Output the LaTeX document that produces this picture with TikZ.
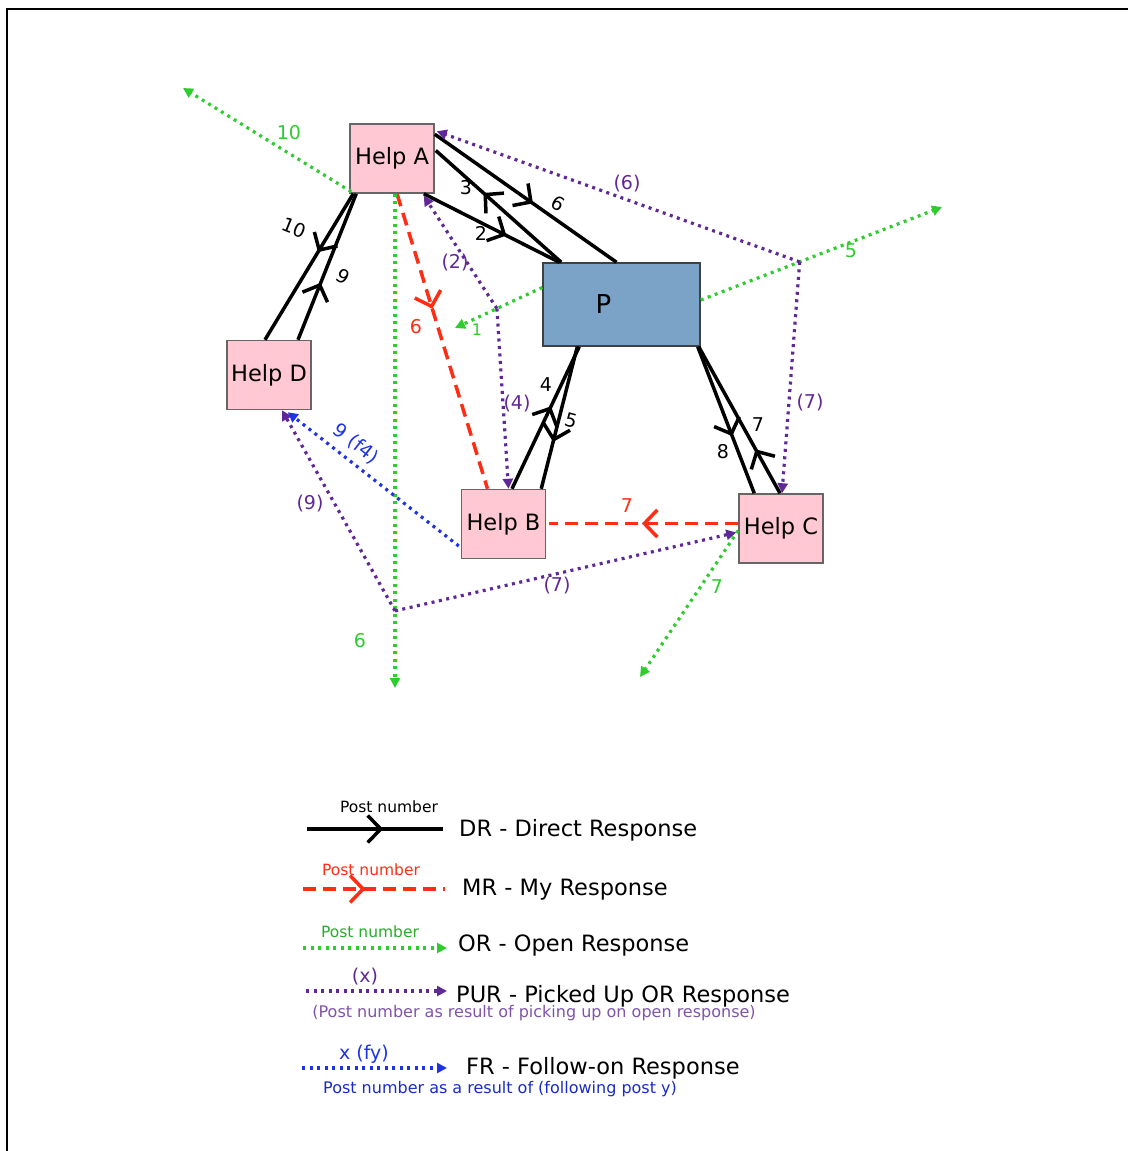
\documentclass[tikz,border=0pt]{standalone}
\usepackage{fontspec}
\setmainfont{DejaVu Sans}
\usetikzlibrary{arrows.meta,calc,decorations.markings}
\definecolor{helpfill}{RGB}{255,200,210}
\definecolor{postfill}{RGB}{122,163,199}
\definecolor{orgreen}{RGB}{45,205,45}
\definecolor{purpur}{RGB}{95,40,150}
\definecolor{frblue}{RGB}{30,50,230}
\definecolor{mrred}{RGB}{255,45,20}
\newcommand{\fs}[1]{\fontsize{#1}{#1}\selectfont}

\begin{document}
\begin{tikzpicture}[x=1pt,y=-1pt,
  help/.style={draw=black!60, line width=1.5pt, fill=helpfill, minimum width=84pt, minimum height=69pt, inner sep=0pt, font=\fs{22.5}},
  post/.style={draw=black!75, line width=1.5pt, fill=postfill, minimum width=157pt, minimum height=83pt, inner sep=0pt, font=\fs{26}},
  mid/.style={decoration={markings, mark=at position #1 with {\pgfsetdash{}{0pt}\arrow{Straight Barb[length=13pt,width=27pt]}}}, postaction={decorate}},
  dr/.style={black, line width=3.5pt, mid=#1},
  mr/.style={mrred, line width=3.5pt, dash pattern=on 13pt off 7pt, mid=#1},
  dots/.style={line width=3.2pt, dash pattern=on 3pt off 4.5pt, -{Triangle[length=10pt,width=10pt]}},
  or/.style={dots, orgreen},
  pur/.style={dots, purpur},
  fr/.style={dots, frblue},
  lbl/.style={font=\fs{19}, inner sep=0pt},
  key/.style={font=\fs{22.5}, anchor=west, inner sep=0pt},
  small/.style={font=\fs{15.5}, inner sep=0pt},
  note/.style={font=\fs{16}, inner sep=0pt},
]
\useasboundingbox (0,0) rectangle (1128,1151);
\draw[line width=2pt] (7,1151) -- (7,9) -- (1128,9);

% boxes
\node[help] (hA) at (392,158.5) {Help A};
\node[post] (P)  at (621.5,304.5) {P\rule{36pt}{0pt}};
\node[help] (hD) at (269,375) {Help D};
\node[help] (hB) at (503.5,524) {Help B};
\node[help] (hC) at (781,528.5) {Help C};

% open response ends and pick-up points
\coordinate (o10) at (183,88);
\coordinate (o6)  at (395,688);
\coordinate (o1)  at (455,328);
\coordinate (o5)  at (942,207);
\coordinate (o7)  at (640,677);
\coordinate (pw) at ($(P.west)+(0,-17)$);
\coordinate (pe) at ($(P.east)+(0,-4.5)$);
\coordinate (ad) at ($(hA.south)+(3,0)$);
\coordinate (jR) at ($(pe)!0.41!(o5)$);
\coordinate (jL) at ($(pw)!0.52!(o1)$);
\coordinate (jB) at ($(ad)!0.844!(o6)$);

% direct responses
\draw[dr=0.54] ($(hA.north east)+(0,11)$) -- ($(P.north)+(-5,0)$);
\draw[dr=0.62] ($(P.north west)+(19,0)$) -- ($(hA.east)+(1,-8)$);
\draw[dr=0.61] ($(hA.south east)+(-11,0)$) -- ($(P.north west)+(17,0)$);
\draw[dr=0.40] ($(hA.south west)+(4,0)$) -- ($(hD.north)+(-4,0)$);
\draw[dr=0.39] ($(hD.north)+(29,0)$) -- ($(hA.south west)+(7,0)$);
\draw[dr=0.58] ($(hB.north)+(8.5,0)$) -- ($(P.south west)+(37,0)$);
\draw[dr=0.67] ($(P.south west)+(35,0)$) -- ($(hB.north east)+(-5,0)$);
\draw[dr=0.61] ($(P.south east)+(-3,0)$) -- ($(hC.north west)+(16,0)$);
\draw[dr=0.30] ($(hC.north)+(-1,0)$) -- ($(P.south east)+(-2,0)$);

% my responses
\draw[mr=0.39] ($(hA.south)+(5,0)$) -- ($(hB.north)+(-16,0)$);
\draw[mr=0.51] ($(hC.west)+(0,-5)$) -- ($(hB.east)+(3,-0.5)$);

% open responses
\draw[or] ($(hA.south west)+(2,-2)$) -- (o10);
\draw[or] (ad) -- (o6);
\draw[or] (pw) -- (o1);
\draw[or] (pe) -- (o5);
\draw[or] ($(hC.west)+(0,2)$) -- (o7);

% picked up
\draw[pur] (jR) -- ($(hA.north east)+(2,8)$);
\draw[pur] (jR) -- ($(hC.north)+(1,0)$);
\draw[pur] (jL) -- ($(hA.south east)+(-11,2)$);
\draw[pur] (jL) -- ($(hB.north)+(5,0)$);
\draw[pur] (jB) -- ($(hD.south)+(13,0)$);
\draw[pur] (jB) -- ($(hC.west)+(-2,4)$);

% follow-on
\draw[fr] ($(hB.west)+(-2,22)$) -- ($(hD.south east)+(-24,2)$);

% post numbers
\node[lbl, rotate=-30] (n6)  at (558,204) {6};
\node[lbl] (n3)  at (466,188) {3};
\node[lbl] (n2)  at (481,233) {2};
\node[lbl, rotate=-22] (n10) at (294,228) {10};
\node[lbl, rotate=-30] (n9)  at (343,277) {9};
\node[lbl] (n4)  at (546,385) {4};
\node[lbl, rotate=-15] (n5)  at (571,420) {5};
\node[lbl] (n8)  at (723,452) {8};
\node[lbl] (n7)  at (758,425) {7};
\node[lbl, text=mrred] (r6) at (416,327) {6};
\node[lbl, text=mrred] (r7) at (627,506) {7};
\node[lbl, text=orgreen] (g10) at (289,133) {10};
\node[lbl, text=orgreen] (g6)  at (360,641) {6};
\node[lbl, text=orgreen, font=\fs{16}] (g1) at (477,330) {1};
\node[lbl, text=orgreen] (g5)  at (851,251) {5};
\node[lbl, text=orgreen] (g7)  at (717,587) {7};
\node[lbl, text=purpur] (p6) at (627,184) {(6)};
\node[lbl, text=purpur] (p2) at (455,263) {(2)};
\node[lbl, text=purpur] (p4) at (517,404) {(4)};
\node[lbl, text=purpur] (p7) at (810,403) {(7)};
\node[lbl, text=purpur] (p9) at (310,504) {(9)};
\node[lbl, text=purpur] (q7) at (557,586) {(7)};
\node[lbl, text=frblue, rotate=-38] (b9) at (356,444) {9 (f4)};

% key
\coordinate (k1a) at (307,829);  \coordinate (k1b) at (443,829);
\coordinate (k2a) at (303,889);  \coordinate (k2b) at (445,889);
\coordinate (k3a) at (303,948);  \coordinate (k3b) at (447,948);
\coordinate (k4a) at (306,991);  \coordinate (k4b) at (447,991);
\coordinate (k5a) at (302,1068); \coordinate (k5b) at (447,1068);
\draw[dr=0.56] (k1a) -- (k1b);
\draw[mr=0.44] (k2a) -- (k2b);
\draw[or] (k3a) -- (k3b);
\draw[pur] (k4a) -- (k4b);
\draw[fr] (k5a) -- (k5b);
\node[small] (k1n) at (389,807) {Post number};
\node[small, text=mrred] (k2n) at (371,870) {Post number};
\node[small, text=orgreen!85!black] (k3n) at (370,932) {Post number};
\node[lbl, text=purpur] (k4n) at (365,977) {(x)};
\node[lbl, text=frblue] (k5n) at (364,1054) {x (fy)};
\node[key] (k1t) at (459,830) {DR - Direct Response};
\node[key] (k2t) at (462,890) {MR - My Response};
\node[key] (k3t) at (458,945) {OR - Open Response};
\node[key] (k4t) at (456,996) {PUR - Picked Up OR Response};
\node[key] (k5t) at (466,1068) {FR - Follow-on Response};
\node[note, text=purpur!80] (k4s) at (534,1013) {(Post number as result of picking up on open response)};
\node[note, text=frblue!85!black] (k5s) at (500,1089) {Post number as a result of (following post y)};
\end{tikzpicture}
\end{document}
